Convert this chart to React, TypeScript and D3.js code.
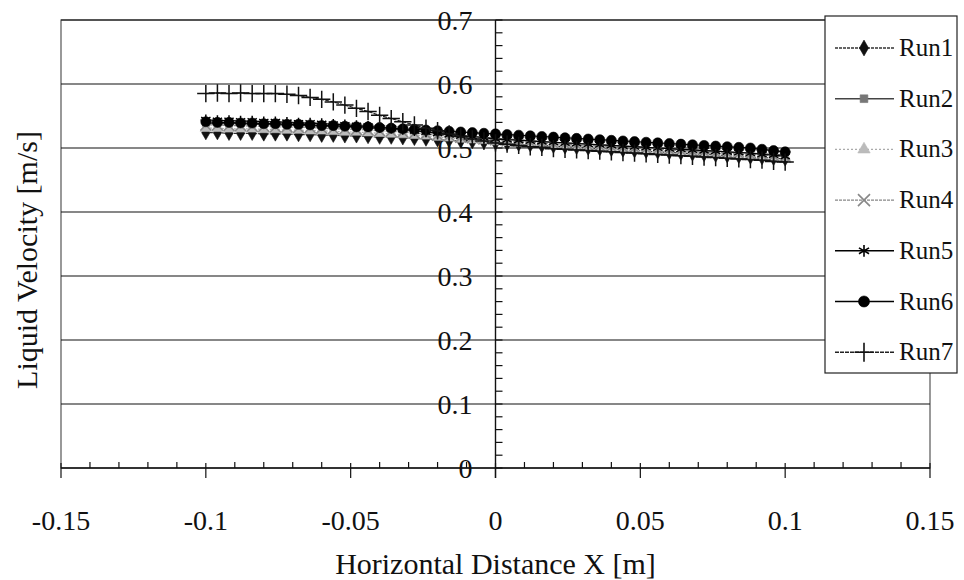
import React, { useEffect, useRef } from 'react';
import * as d3 from 'd3';

// x positions of the measurements [m]
const xs = [
  -0.1, -0.096, -0.092, -0.088, -0.084, -0.08, -0.076, -0.072, -0.068, -0.064,
  -0.06, -0.056, -0.052, -0.048, -0.044, -0.04, -0.036, -0.032, -0.028, -0.024,
  -0.02, -0.016, -0.012, -0.008, -0.004, 0, 0.004, 0.008, 0.012, 0.016,
  0.02, 0.024, 0.028, 0.032, 0.036, 0.04, 0.044, 0.048, 0.052, 0.056,
  0.06, 0.064, 0.068, 0.072, 0.076, 0.08, 0.084, 0.088, 0.092, 0.096, 0.1,
];

const run1 = [
  0.524, 0.524, 0.523, 0.523, 0.523, 0.522, 0.522, 0.522, 0.521, 0.521,
  0.52, 0.52, 0.519, 0.519, 0.518, 0.517, 0.517, 0.516, 0.515, 0.514,
  0.513, 0.512, 0.511, 0.51, 0.509, 0.508, 0.507, 0.506, 0.505, 0.504,
  0.503, 0.502, 0.501, 0.5, 0.499, 0.498, 0.497, 0.496, 0.495, 0.494,
  0.493, 0.492, 0.491, 0.49, 0.489, 0.488, 0.487, 0.486, 0.485, 0.484, 0.483,
];
const run2 = [
  0.539, 0.538, 0.538, 0.538, 0.537, 0.537, 0.536, 0.536, 0.535, 0.535,
  0.534, 0.533, 0.533, 0.532, 0.531, 0.53, 0.529, 0.528, 0.526, 0.525,
  0.523, 0.521, 0.52, 0.518, 0.517, 0.515, 0.514, 0.513, 0.511, 0.51,
  0.509, 0.508, 0.507, 0.506, 0.505, 0.504, 0.503, 0.502, 0.501, 0.5,
  0.499, 0.498, 0.497, 0.496, 0.495, 0.494, 0.493, 0.492, 0.491, 0.49, 0.489,
];
const run3 = [
  0.531, 0.531, 0.53, 0.53, 0.53, 0.529, 0.529, 0.528, 0.528, 0.527,
  0.527, 0.526, 0.525, 0.525, 0.524, 0.523, 0.522, 0.521, 0.52, 0.519,
  0.517, 0.516, 0.514, 0.513, 0.512, 0.51, 0.509, 0.508, 0.507, 0.506,
  0.505, 0.504, 0.503, 0.502, 0.501, 0.5, 0.499, 0.498, 0.497, 0.496,
  0.495, 0.494, 0.493, 0.492, 0.491, 0.49, 0.489, 0.488, 0.487, 0.486, 0.485,
];
const run4 = [
  0.536, 0.536, 0.535, 0.535, 0.534, 0.534, 0.533, 0.533, 0.532, 0.532,
  0.531, 0.53, 0.53, 0.529, 0.528, 0.527, 0.526, 0.525, 0.523, 0.522,
  0.52, 0.519, 0.517, 0.516, 0.514, 0.513, 0.511, 0.51, 0.509, 0.508,
  0.507, 0.506, 0.505, 0.504, 0.503, 0.502, 0.501, 0.5, 0.499, 0.498,
  0.497, 0.496, 0.495, 0.494, 0.493, 0.492, 0.491, 0.49, 0.489, 0.488, 0.486,
];
const run5 = [
  0.544, 0.543, 0.543, 0.542, 0.542, 0.541, 0.541, 0.54, 0.539, 0.539,
  0.538, 0.537, 0.536, 0.535, 0.534, 0.532, 0.531, 0.529, 0.527, 0.525,
  0.523, 0.521, 0.519, 0.518, 0.516, 0.514, 0.513, 0.512, 0.511, 0.51,
  0.509, 0.508, 0.507, 0.506, 0.505, 0.504, 0.503, 0.502, 0.501, 0.5,
  0.499, 0.498, 0.497, 0.496, 0.495, 0.494, 0.493, 0.492, 0.49, 0.489, 0.487,
];
const run6 = [
  0.541, 0.54, 0.54, 0.539, 0.539, 0.538, 0.538, 0.537, 0.537, 0.536,
  0.535, 0.535, 0.534, 0.533, 0.533, 0.532, 0.531, 0.53, 0.529, 0.528,
  0.527, 0.526, 0.525, 0.524, 0.523, 0.522, 0.521, 0.52, 0.519, 0.518,
  0.517, 0.516, 0.515, 0.514, 0.513, 0.512, 0.511, 0.51, 0.509, 0.508,
  0.507, 0.506, 0.505, 0.504, 0.503, 0.502, 0.501, 0.5, 0.498, 0.496, 0.494,
];
const run7 = [
  0.585, 0.586, 0.585, 0.586, 0.585, 0.585, 0.585, 0.584, 0.582, 0.579,
  0.576, 0.572, 0.567, 0.562, 0.557, 0.551, 0.546, 0.541, 0.536, 0.531,
  0.527, 0.522, 0.518, 0.514, 0.511, 0.508, 0.506, 0.504, 0.502, 0.501,
  0.499, 0.498, 0.497, 0.496, 0.495, 0.494, 0.493, 0.492, 0.491, 0.49,
  0.489, 0.488, 0.487, 0.486, 0.485, 0.484, 0.483, 0.482, 0.481, 0.479, 0.478,
];

const runNames = ['Run1', 'Run2', 'Run3', 'Run4', 'Run5', 'Run6', 'Run7'];
const xTicks = [-0.15, -0.1, -0.05, 0, 0.05, 0.1, 0.15];
const yTicks = [0, 0.1, 0.2, 0.3, 0.4, 0.5, 0.6, 0.7];

const series = [run1, run2, run3, run4, run5, run6, run7];
const styles = [
  { symbol: d3.symbolDiamond, size: 60, filled: true, color: '#111', line: '#333', dash: '3,1' },
  { symbol: d3.symbolSquare, size: 50, filled: true, color: '#777', line: '#444', dash: null },
  { symbol: d3.symbolTriangle, size: 55, filled: true, color: '#bbb', line: '#aaa', dash: '2,2' },
  { symbol: d3.symbolTimes, size: 80, filled: false, color: '#888', line: '#888', dash: '3,1' },
  { symbol: d3.symbolAsterisk, size: 80, filled: false, color: '#000', line: '#000', dash: null },
  { symbol: d3.symbolCircle, size: 80, filled: true, color: '#000', line: '#000', dash: null },
  { symbol: d3.symbolPlus, size: 100, filled: false, color: '#111', line: '#222', dash: '4,1' },
];

const FONT = "'Liberation Serif', 'DejaVu Serif', 'Times New Roman', Times, serif";

const App = () => {
  const ref = useRef<SVGSVGElement>(null);

  useEffect(() => {
    const svg = d3.select(ref.current);
    svg.selectAll('*').remove();

    const left = 61, right = 930, top = 20, bottom = 468;
    const x = d3.scaleLinear().domain([-0.15, 0.15]).range([left, right]);
    const y = d3.scaleLinear().domain([0, 0.7]).range([bottom, top]);

    // plot frame
    svg.append('rect')
      .attr('x', left).attr('y', top)
      .attr('width', right - left).attr('height', bottom - top)
      .attr('fill', 'white').attr('stroke', '#555').attr('stroke-width', 1.2);

    // gridlines
    svg.append('g')
      .selectAll('line')
      .data(yTicks.filter((d) => d > 0))
      .join('line')
      .attr('x1', left).attr('x2', right)
      .attr('y1', (d) => y(d)).attr('y2', (d) => y(d))
      .attr('stroke', '#111').attr('stroke-width', 1.2);

    // x axis at y = 0
    svg.append('line')
      .attr('x1', left).attr('x2', right)
      .attr('y1', y(0)).attr('y2', y(0))
      .attr('stroke', '#111').attr('stroke-width', 1.4);
    svg.append('g')
      .selectAll('line')
      .data(d3.range(-15, 16).map((i) => i / 100))
      .join('line')
      .attr('x1', (d) => x(d)).attr('x2', (d) => x(d))
      .attr('y1', (d) => (Math.round(d * 100) % 5 === 0 ? y(0) - 5 : y(0) - 6))
      .attr('y2', (d) => (Math.round(d * 100) % 5 === 0 ? y(0) + 10 : y(0)))
      .attr('stroke', '#111').attr('stroke-width', 1.2);

    // y axis at x = 0
    svg.append('line')
      .attr('x1', x(0)).attr('x2', x(0))
      .attr('y1', y(0.7)).attr('y2', y(0) + 10)
      .attr('stroke', '#111').attr('stroke-width', 1.4);
    svg.append('g')
      .selectAll('line')
      .data(d3.range(0, 36).map((i) => i / 50))
      .join('line')
      .attr('x1', x(0)).attr('x2', x(0) + 7)
      .attr('y1', (d) => y(d)).attr('y2', (d) => y(d))
      .attr('stroke', '#111').attr('stroke-width', 1.2);

    // tick labels
    svg.append('g')
      .selectAll('text')
      .data(yTicks)
      .join('text')
      .attr('x', x(0) - 23)
      .attr('y', (d) => y(d) + 10)
      .attr('text-anchor', 'end')
      .style('font-family', FONT).style('font-size', '28px')
      .attr('fill', '#111')
      .text((d) => String(d));

    svg.append('g')
      .selectAll('text')
      .data(xTicks)
      .join('text')
      .attr('x', (d) => x(d))
      .attr('y', 530)
      .attr('text-anchor', 'middle')
      .style('font-family', FONT).style('font-size', '28px')
      .attr('fill', '#111')
      .text((d) => String(d));

    // axis titles
    svg.append('text')
      .attr('x', x(0)).attr('y', 574)
      .attr('text-anchor', 'middle')
      .style('font-family', FONT).style('font-size', '30px')
      .attr('fill', '#111')
      .text('Horizontal Distance X [m]');
    svg.append('text')
      .attr('transform', `translate(37, ${(top + bottom) / 2 + 16}) rotate(-90)`)
      .attr('text-anchor', 'middle')
      .style('font-family', FONT).style('font-size', '30px')
      .attr('fill', '#111')
      .text('Liquid Velocity [m/s]');

    // series
    const line = d3.line<number>().x((_, i) => x(xs[i])).y((d) => y(d));
    series.forEach((vals, k) => {
      const s = styles[k];
      const g = svg.append('g');
      g.append('path')
        .attr('d', line(vals))
        .attr('fill', 'none')
        .attr('stroke', s.line)
        .attr('stroke-width', 1.2)
        .attr('stroke-dasharray', s.dash);
      g.selectAll('path.m')
        .data(vals)
        .join('path')
        .attr('class', 'm')
        .attr('transform', (d, i) => `translate(${x(xs[i])},${y(d)})`)
        .attr('d', d3.symbol().type(s.symbol).size(s.size)())
        .attr('fill', s.filled ? s.color : 'none')
        .attr('stroke', s.color)
        .attr('stroke-width', s.filled ? 0.6 : 1.5);
    });

    // legend
    const lg = svg.append('g');
    lg.append('rect')
      .attr('x', 825).attr('y', 16)
      .attr('width', 132).attr('height', 357)
      .attr('fill', 'white').attr('stroke', '#222').attr('stroke-width', 1.2);
    runNames.forEach((name, k) => {
      const s = styles[k];
      const cy = 48 + k * 50.7;
      lg.append('line')
        .attr('x1', 835).attr('x2', 894)
        .attr('y1', cy).attr('y2', cy)
        .attr('stroke', s.line).attr('stroke-width', 1.4)
        .attr('stroke-dasharray', s.dash);
      lg.append('path')
        .attr('transform', `translate(864,${cy})`)
        .attr('d', d3.symbol().type(s.symbol).size(s.size * 1.2)())
        .attr('fill', s.filled ? s.color : 'none')
        .attr('stroke', s.color)
        .attr('stroke-width', s.filled ? 0.6 : 1.6);
      lg.append('text')
        .attr('x', 899).attr('y', cy + 8)
        .style('font-family', FONT).style('font-size', '25px')
        .attr('fill', '#111')
        .text(name);
    });
  }, []);

  return (
    <svg
      ref={ref}
      width={964}
      height={580}
      style={{ position: 'absolute', left: 0, top: 0, background: 'white' }}
    />
  );
};

export default App;
